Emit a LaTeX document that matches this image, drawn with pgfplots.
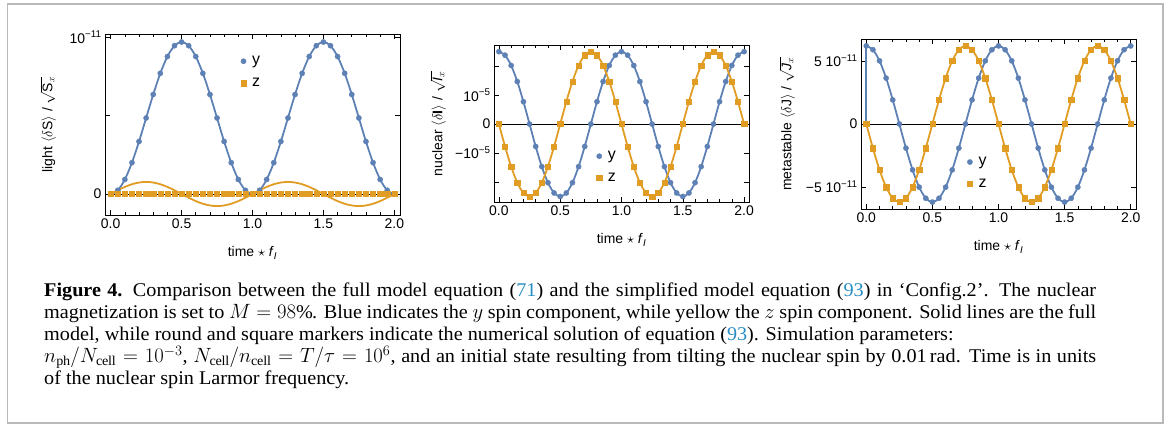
\documentclass[border=0pt]{standalone}
\usepackage{amsmath}
\usepackage{pgfplots}
\pgfplotsset{compat=1.18}
\usepackage{pgfplotstable}
\usepackage{fontspec}
\setmainfont{Liberation Serif}[FakeStretch=1.04]
\newfontfamily\axisfont{Liberation Sans}
\definecolor{mblue}{rgb}{0.368,0.507,0.710}
\definecolor{morange}{rgb}{0.881,0.611,0.142}
\definecolor{linkblue}{RGB}{41,141,196}

% panel 1: light, units of 1e-11
\pgfplotstableread{
t y zl zm
0.00 0 0 0
0.05 0.0237 0.0238 0
0.10 0.0926 0.0453 0
0.15 0.1999 0.0623 0
0.20 0.3351 0.0732 0
0.25 0.4850 0.0770 0
0.30 0.6349 0.0732 0
0.35 0.7701 0.0623 0
0.40 0.8774 0.0453 0
0.45 0.9463 0.0238 0
0.50 0.9700 0 0
0.55 0.9463 -0.0238 0
0.60 0.8774 -0.0453 0
0.65 0.7701 -0.0623 0
0.70 0.6349 -0.0732 0
0.75 0.4850 -0.0770 0
0.80 0.3351 -0.0732 0
0.85 0.1999 -0.0623 0
0.90 0.0926 -0.0453 0
0.95 0.0237 -0.0238 0
1.00 0 0 0
1.05 0.0237 0.0238 0
1.10 0.0926 0.0453 0
1.15 0.1999 0.0623 0
1.20 0.3351 0.0732 0
1.25 0.4850 0.0770 0
1.30 0.6349 0.0732 0
1.35 0.7701 0.0623 0
1.40 0.8774 0.0453 0
1.45 0.9463 0.0238 0
1.50 0.9700 0 0
1.55 0.9463 -0.0238 0
1.60 0.8774 -0.0453 0
1.65 0.7701 -0.0623 0
1.70 0.6349 -0.0732 0
1.75 0.4850 -0.0770 0
1.80 0.3351 -0.0732 0
1.85 0.1999 -0.0623 0
1.90 0.0926 -0.0453 0
1.95 0.0237 -0.0238 0
2.00 0 0 0
}\tlight

% panel 2: nuclear, units of 1e-5
\pgfplotstableread{
t y z
0.00 2.500 0
0.05 2.378 -0.773
0.10 2.023 -1.469
0.15 1.469 -2.023
0.20 0.773 -2.378
0.25 0 -2.500
0.30 -0.773 -2.378
0.35 -1.469 -2.023
0.40 -2.023 -1.469
0.45 -2.378 -0.773
0.50 -2.500 0
0.55 -2.378 0.773
0.60 -2.023 1.469
0.65 -1.469 2.023
0.70 -0.773 2.378
0.75 0 2.500
0.80 0.773 2.378
0.85 1.469 2.023
0.90 2.023 1.469
0.95 2.378 0.773
1.00 2.500 0
1.05 2.378 -0.773
1.10 2.023 -1.469
1.15 1.469 -2.023
1.20 0.773 -2.378
1.25 0 -2.500
1.30 -0.773 -2.378
1.35 -1.469 -2.023
1.40 -2.023 -1.469
1.45 -2.378 -0.773
1.50 -2.500 0
1.55 -2.378 0.773
1.60 -2.023 1.469
1.65 -1.469 2.023
1.70 -0.773 2.378
1.75 0 2.500
1.80 0.773 2.378
1.85 1.469 2.023
1.90 2.023 1.469
1.95 2.378 0.773
2.00 2.500 0
}\tnuc

% panel 3: metastable, units of 1e-11
\pgfplotstableread{
t y z
0.00 6.200 0
0.05 5.897 -1.916
0.10 5.016 -3.644
0.15 3.644 -5.016
0.20 1.916 -5.897
0.25 0 -6.200
0.30 -1.916 -5.897
0.35 -3.644 -5.016
0.40 -5.016 -3.644
0.45 -5.897 -1.916
0.50 -6.200 0
0.55 -5.897 1.916
0.60 -5.016 3.644
0.65 -3.644 5.016
0.70 -1.916 5.897
0.75 0 6.200
0.80 1.916 5.897
0.85 3.644 5.016
0.90 5.016 3.644
0.95 5.897 1.916
1.00 6.200 0
1.05 5.897 -1.916
1.10 5.016 -3.644
1.15 3.644 -5.016
1.20 1.916 -5.897
1.25 0 -6.200
1.30 -1.916 -5.897
1.35 -3.644 -5.016
1.40 -5.016 -3.644
1.45 -5.897 -1.916
1.50 -6.200 0
1.55 -5.897 1.916
1.60 -5.016 3.644
1.65 -3.644 5.016
1.70 -1.916 5.897
1.75 0 6.200
1.80 1.916 5.897
1.85 3.644 5.016
1.90 5.016 3.644
1.95 5.897 1.916
2.00 6.200 0
}\tmeta

\pgfplotsset{
  panel/.style={
    scale only axis,
    xmin=-0.04, xmax=2.04,
    xtick={0,0.5,1,1.5,2},
    xticklabels={0.0,0.5,1.0,1.5,2.0},
    minor x tick num=4,
    tick align=inside,
    major tick length=5bp,
    minor tick length=3bp,
    axis line style={line width=0.8bp},
    tick style={black, line width=0.6bp},
    tick label style={font=\axisfont\fontsize{14}{16}\selectfont},
    label style={font=\axisfont\fontsize{14}{16}\selectfont},
    /pgf/number format/assume math mode=true,
    xlabel={time $\star$ \textit{f}$_{\text{\textit{I}}}$},
    xlabel style={at={(rel axis cs:0.5,0)}, anchor=center, yshift=-38bp},
    legend style={draw=none, fill=none, anchor=north west,
      font=\axisfont\fontsize{16}{18}\selectfont, row sep=8bp,
      /tikz/every odd column/.append style={column sep=4bp}},
    legend cell align=left,
  },
  yline/.style={mblue, line width=1.8bp, smooth},
  zline/.style={morange, line width=1.8bp, smooth},
  ymark/.style={only marks, mark=*, mark size=2.6bp, mblue, mark options={draw=none, fill=mblue}},
  zmark/.style={only marks, mark=square*, mark size=2.6bp, morange, mark options={draw=none, fill=morange}},
}

\begin{document}
\begin{tikzpicture}
\useasboundingbox (0,0) rectangle (1165bp,425bp);
\draw[gray!55, line width=1.3bp] (7.5bp,2bp) rectangle (1163bp,421bp);

% panel 1
\begin{axis}[panel,
  at={(105bp,210bp)}, anchor=south west, width=295bp, height=181bp,
  ymin=-0.134, ymax=1.021,
  ytick={0,0.5,1}, yticklabels={0,,10\textsuperscript{−11}},
  ylabel={light $\langle\delta\text{S}\rangle$ / $\sqrt{\text{S}_{x}}$},
  ylabel style={at={(rel axis cs:0,0.5)}, anchor=center, yshift=57bp},
  legend style={at={(0.45,0.90)}},
]
\addplot[black, line width=0.8bp, forget plot] coordinates {(-0.04,0) (2.04,0)};
\addplot[yline, forget plot] table[x=t, y=y] {\tlight};
\addplot[zline, forget plot] table[x=t, y=zl] {\tlight};
\addplot[ymark] table[x=t, y=y] {\tlight};
\addplot[zmark] table[x=t, y=zm] {\tlight};
\legend{y, z}
\end{axis}

% panel 2
\begin{axis}[panel,
  at={(494bp,223bp)}, anchor=south west, width=255bp, height=157bp,
  ymin=-2.69, ymax=2.73,
  ytick={-2,-1,0,1,2}, yticklabels={,−10\textsuperscript{−5},0,10\textsuperscript{−5},},
  ylabel={nuclear $\langle\delta\textbf{I}\rangle$ / $\sqrt{\text{\textit{I}}_{x}}$},
  ylabel style={at={(rel axis cs:0,0.5)}, anchor=center, yshift=56bp},
  legend style={at={(0.39,0.35)}},
]
\addplot[black, line width=0.8bp, forget plot] coordinates {(-0.04,0) (2.04,0)};
\addplot[yline, forget plot] table[x=t, y=y] {\tnuc};
\addplot[zline, forget plot] table[x=t, y=z] {\tnuc};
\addplot[ymark] table[x=t, y=y] {\tnuc};
\addplot[zmark] table[x=t, y=z] {\tnuc};
\legend{y, z}
\end{axis}

% panel 3
\begin{axis}[panel,
  at={(861bp,216bp)}, anchor=south west, width=275bp, height=170bp,
  ymin=-6.75, ymax=6.75,
  ytick={-5,0,5}, yticklabels={−5 10\textsuperscript{−11},0,5 10\textsuperscript{−11}},
  ylabel={metastable $\langle\delta\text{J}\rangle$ / $\sqrt{\text{\textit{J}}_{x}}$},
  ylabel style={at={(rel axis cs:0,0.5)}, anchor=center, yshift=74bp},
  legend style={at={(0.375,0.33)}},
]
\addplot[black, line width=0.8bp, forget plot] coordinates {(-0.04,0) (2.04,0)};
\addplot[mblue, line width=1.8bp, forget plot] coordinates {(0,0) (0,6.2)};
\addplot[yline, forget plot] table[x=t, y=y] {\tmeta};
\addplot[zline, forget plot] table[x=t, y=z] {\tmeta};
\addplot[ymark] table[x=t, y=y] {\tmeta};
\addplot[zmark] table[x=t, y=z] {\tmeta};
\legend{y, z}
\end{axis}

\node[anchor=north west, inner sep=0pt, text width=1052bp, align=justify,
  font=\fontsize{19.5}{22}\selectfont] at (44bp,142bp) {%
{\bfseries Figure 4.} Comparison between the full model equation ({\color{linkblue}71}) and the simplified model equation ({\color{linkblue}93}) in ‘Config.2’. The nuclear\linebreak
magnetization is set to $M=98\%$. Blue indicates the $y$ spin component, while yellow the $z$ spin component. Solid lines are the full\linebreak
model, while round and square markers indicate the numerical solution of equation ({\color{linkblue}93}). Simulation parameters:\newline
$n_{\mathrm{ph}}/N_{\mathrm{cell}}=10^{-3}$, $N_{\mathrm{cell}}/n_{\mathrm{cell}}=T/\tau=10^{6}$, and an initial state resulting from tilting the nuclear spin by 0.01\,rad. Time is in units\linebreak
of the nuclear spin Larmor frequency.};
\end{tikzpicture}
\end{document}
